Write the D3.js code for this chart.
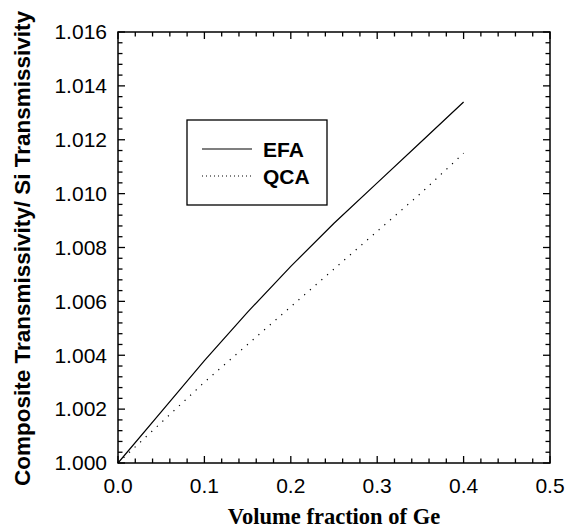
<!DOCTYPE html>
<html>
<head>
<meta charset="utf-8">
<script src="https://cdn.jsdelivr.net/npm/d3@7"></script>
<style>
  body { margin: 0; background: #fff; }
  svg { display: block; }
</style>
</head>
<body>
<script>
// values
var fraction = [0, 0.05, 0.1, 0.15, 0.2, 0.25, 0.3, 0.35, 0.4];
var efa = [1.0000, 1.0019, 1.0038, 1.0056, 1.0073, 1.0089, 1.0104, 1.0119, 1.0134];
var qca = [1.0000, 1.0015, 1.0030, 1.0044, 1.0058, 1.0072, 1.0086, 1.0100, 1.0115];
var xTicks = [0, 0.1, 0.2, 0.3, 0.4, 0.5];
var yTicks = [1.000, 1.002, 1.004, 1.006, 1.008, 1.010, 1.012, 1.014, 1.016];
var seriesNames = ["EFA", "QCA"];

var width = 579, height = 528;
var margin = {top: 32, right: 29, bottom: 65, left: 118};

var svg = d3.select("body").append("svg")
    .attr("width", width)
    .attr("height", height);

var x = d3.scaleLinear().domain([0, 0.5]).range([margin.left, width - margin.right]);
var y = d3.scaleLinear().domain([1.000, 1.016]).range([height - margin.bottom, margin.top]);

var x0 = x.range()[0], x1 = x.range()[1], y0 = y.range()[0], y1 = y.range()[1];

var xMinor = d3.range(0, 0.5001, 0.02);
var yMinor = d3.range(1.000, 1.01601, 0.0004);
var majorLen = 7, minorLen = 4.5;

function isMajor(v, list) {
    return list.some(function(t) { return Math.abs(t - v) < 1e-7; });
}

var ticks = svg.append("g").attr("stroke", "#000").attr("stroke-width", 1.3);

// x ticks on bottom and top, pointing inward
xMinor.forEach(function(v) {
    var len = isMajor(v, xTicks) ? majorLen : minorLen;
    ticks.append("line").attr("x1", x(v)).attr("x2", x(v)).attr("y1", y0).attr("y2", y0 - len);
    ticks.append("line").attr("x1", x(v)).attr("x2", x(v)).attr("y1", y1).attr("y2", y1 + len);
});
// y ticks on left and right
yMinor.forEach(function(v) {
    var len = isMajor(v, yTicks) ? majorLen : minorLen;
    ticks.append("line").attr("y1", y(v)).attr("y2", y(v)).attr("x1", x0).attr("x2", x0 + len);
    ticks.append("line").attr("y1", y(v)).attr("y2", y(v)).attr("x1", x1).attr("x2", x1 - len);
});

svg.append("rect")
    .attr("x", x0).attr("y", y1)
    .attr("width", x1 - x0).attr("height", y0 - y1)
    .attr("fill", "none").attr("stroke", "#000").attr("stroke-width", 1.5);

// tick labels
svg.append("g").selectAll("text")
    .data(xTicks).enter().append("text")
    .attr("x", function(d) { return x(d); })
    .attr("y", y0 + 30)
    .attr("text-anchor", "middle")
    .style("font", "21px 'Liberation Sans', Arial, sans-serif")
    .text(d3.format(".1f"));

svg.append("g").selectAll("text")
    .data(yTicks).enter().append("text")
    .attr("x", x0 - 11)
    .attr("y", function(d) { return y(d); })
    .attr("dy", "0.35em")
    .attr("text-anchor", "end")
    .style("font", "21px 'Liberation Sans', Arial, sans-serif")
    .text(d3.format(".3f"));

// axis titles
svg.append("text")
    .attr("x", 334)
    .attr("y", 524)
    .attr("text-anchor", "middle")
    .style("font", "bold 22.5px 'Liberation Serif', 'Times New Roman', serif")
    .text("Volume fraction of Ge");

svg.append("text")
    .attr("transform", "translate(29.5," + 248.5 + ") rotate(-90)")
    .attr("text-anchor", "middle")
    .style("font", "bold 22.5px 'Liberation Sans', Arial, sans-serif")
    .text("Composite Transmissivity/ Si Transmissivity");

// curves
var line = d3.line()
    .x(function(d) { return x(d[0]); })
    .y(function(d) { return y(d[1]); });

svg.append("path")
    .datum(d3.zip(fraction, efa))
    .attr("d", line)
    .attr("fill", "none").attr("stroke", "#000").attr("stroke-width", 1.2);

svg.append("path")
    .datum(d3.zip(fraction, qca))
    .attr("d", line)
    .attr("fill", "none").attr("stroke", "#000").attr("stroke-width", 1.2)
    .attr("stroke-dasharray", "1.2,6.4");

// legend
var legend = svg.append("g");
legend.append("rect")
    .attr("x", 187).attr("y", 120).attr("width", 140).attr("height", 85)
    .attr("fill", "#fff").attr("stroke", "#000").attr("stroke-width", 1.3);

var dashes = [null, "1,3"];
seriesNames.forEach(function(name, i) {
    var ly = 149 + i * 27;
    legend.append("line")
        .attr("x1", 202).attr("x2", 252).attr("y1", ly).attr("y2", ly)
        .attr("stroke", "#000").attr("stroke-width", 1.2)
        .attr("stroke-dasharray", dashes[i]);
    legend.append("text")
        .attr("x", 263).attr("y", ly + 8)
        .style("font", "bold 21px 'Liberation Sans', Arial, sans-serif")
        .text(name);
});
</script>
</body>
</html>
